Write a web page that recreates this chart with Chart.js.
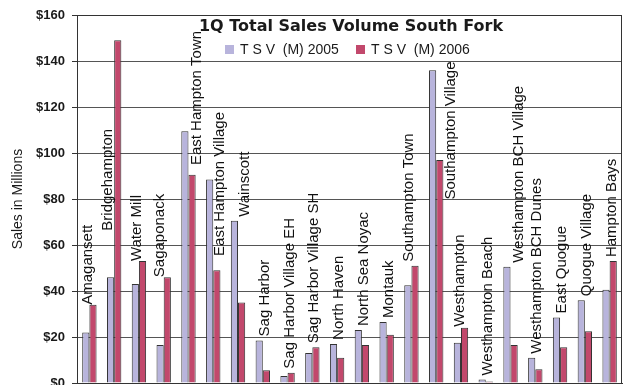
<!DOCTYPE html>
<html>
<head>
<meta charset="utf-8">
<title>1Q Total Sales Volume South Fork</title>
<script src="https://cdn.jsdelivr.net/npm/chart.js@4.4.1/dist/chart.umd.min.js"></script>
<style>
  html, body { margin: 0; padding: 0; background: #fff; }
  canvas { display: block; }
</style>
</head>
<body>
<canvas id="salesChart" width="628" height="385"></canvas>
<script>
// hamlets / villages along the South Fork
var towns = [
    'Amagansett', 'Bridgehampton', 'Water Mill', 'Sagaponack', 'East Hampton Town',
    'East Hampton Village', 'Wainscott', 'Sag Harbor', 'Sag Harbor Village EH',
    'Sag Harbor Village SH', 'North Haven', 'North Sea Noyac', 'Montauk',
    'Southampton Town', 'Southampton Village', 'Westhampton', 'Westhampton Beach',
    'Westhampton BCH Village', 'Westhampton BCH Dunes', 'East Quogue',
    'Quogue Village', 'Hampton Bays'
];

// total sales volume, millions of dollars
var tsv2005 = [22, 46, 43, 16.5, 109.5, 88.5, 70.5, 18.5, 3, 13, 17, 23, 26.5,
    42.5, 136, 17.5, 1.5, 50.5, 11, 28.5, 36, 40.5];
var tsv2006 = [34, 149, 53, 46, 90.5, 49, 35, 5.5, 4.5, 15.5, 11, 16.5, 21,
    51, 97, 24, 0.6, 16.5, 6, 15.5, 22.5, 53];

var seriesNames = ['T S V  (M) 2005', 'T S V  (M) 2006'];
var yTicks = [0, 20, 40, 60, 80, 100, 120, 140, 160];

var LAVENDER = '#b8b4dc';
var CRIMSON = '#c2486c';
var LINE = '#333';

// where the hand placed labels sit when not simply on top of the taller bar
var labelTweaks = {
    'Amagansett': { dx: -2, gap: 0 },
    'Bridgehampton': { at: 64.5, dx: -6 },
    'Water Mill': { dx: -2.5, gap: 0 },
    'Sagaponack': { dx: -4, gap: 0 },
    'East Hampton Town': { at: 93, dx: 8 },
    'East Hampton Village': { at: 53.5, dx: 6.5 },
    'Wainscott': { dx: 7 },
    'Southampton Town': { dx: -3 },
    'Southampton Village': { at: 78, dx: 15 },
    'Westhampton': { dx: -1.5, gap: 1 },
    'Westhampton BCH Village': { dx: 8 }
};

// titre + légende dessinés dans la zone du graphique, et étiquettes verticales
var decorations = {
    id: 'decorations',
    beforeDatasetsDraw: function (chart) {
        var a = chart.chartArea, c = chart.ctx;
        c.save();
        c.strokeStyle = LINE;
        c.lineWidth = 1;
        c.strokeRect(Math.round(a.left) + 0.5, Math.round(a.top) + 0.5,
            Math.round(a.right - a.left) - 1, Math.round(a.bottom - a.top));
        c.restore();
    },
    afterDatasetsDraw: function (chart) {
        var c = chart.ctx, y = chart.scales.y;
        var m0 = chart.getDatasetMeta(0), m1 = chart.getDatasetMeta(1);
        c.save();
        c.fillStyle = '#111';
        c.font = '15px "Liberation Sans", Arial, sans-serif';
        c.textAlign = 'left';
        c.textBaseline = 'middle';
        towns.forEach(function (name, i) {
            var t = labelTweaks[name] || {};
            var cx = (m0.data[i].x + m1.data[i].x) / 2 + (t.dx !== undefined ? t.dx : 2);
            var base = t.at !== undefined ? t.at : Math.max(tsv2005[i], tsv2006[i]);
            var py = y.getPixelForValue(base) - (t.gap !== undefined ? t.gap : 4);
            c.save();
            c.translate(cx, py);
            c.rotate(-Math.PI / 2);
            c.fillText(name, 0, 0);
            c.restore();
        });

        // title
        c.fillStyle = '#1a1a1a';
        c.textAlign = 'center';
        c.font = 'bold 16px "DejaVu Sans", sans-serif';
        c.fillText('1Q Total Sales Volume South Fork', 351, 27);

        // legend
        c.font = '14px "Liberation Sans", Arial, sans-serif';
        c.textAlign = 'left';
        var keys = [{ x: 225, color: LAVENDER }, { x: 356, color: CRIMSON }];
        keys.forEach(function (k, j) {
            c.fillStyle = k.color;
            c.fillRect(k.x, 45, 9, 9);
            c.fillStyle = '#1a1a1a';
            c.fillText(seriesNames[j], k.x + 15, 50);
        });
        c.restore();
    }
};

var ctx = document.getElementById('salesChart').getContext('2d');
var salesChart = new Chart(ctx, {
    type: 'bar',
    data: {
        labels: towns,
        datasets: [{
            label: seriesNames[0],
            data: tsv2005,
            backgroundColor: LAVENDER,
            borderColor: LINE,
            borderWidth: 1
        }, {
            label: seriesNames[1],
            data: tsv2006,
            backgroundColor: CRIMSON,
            borderColor: LINE,
            borderWidth: 1
        }]
    },
    plugins: [decorations],
    options: {
        responsive: false,
        animation: false,
        layout: { padding: { top: 15, right: 6, bottom: 2, left: 0 } },
        datasets: {
            bar: { categoryPercentage: 0.58, barPercentage: 1.0 }
        },
        plugins: {
            legend: { display: false },
            title: { display: false },
            tooltip: { enabled: false }
        },
        scales: {
            x: {
                ticks: { display: false },
                grid: { display: false },
                border: { display: true, color: LINE },
                afterFit: function (scale) { scale.height = 0; }
            },
            y: {
                min: 0,
                max: 160,
                afterBuildTicks: function (scale) {
                    scale.ticks = yTicks.map(function (v) { return { value: v }; });
                },
                afterFit: function (scale) {
                    scale.width = 77;
                    // the original crops the "$0" label at the bottom edge
                    scale.paddingBottom = 0;
                    scale.paddingTop = 0;
                },
                ticks: {
                    padding: 7,
                    color: '#1a1a1a',
                    font: { family: '"Liberation Sans", Arial, sans-serif', size: 13, weight: 'bold' },
                    callback: function (value) { return '$' + value; }
                },
                grid: { color: '#555', tickColor: LINE, tickLength: 5 },
                border: { color: '#111' },
                title: {
                    display: true,
                    text: 'Sales in Millions',
                    color: '#1a1a1a',
                    padding: { top: 10, bottom: 0 },
                    font: { family: '"Liberation Sans", Arial, sans-serif', size: 14 }
                }
            }
        }
    }
});
</script>
</body>
</html>
